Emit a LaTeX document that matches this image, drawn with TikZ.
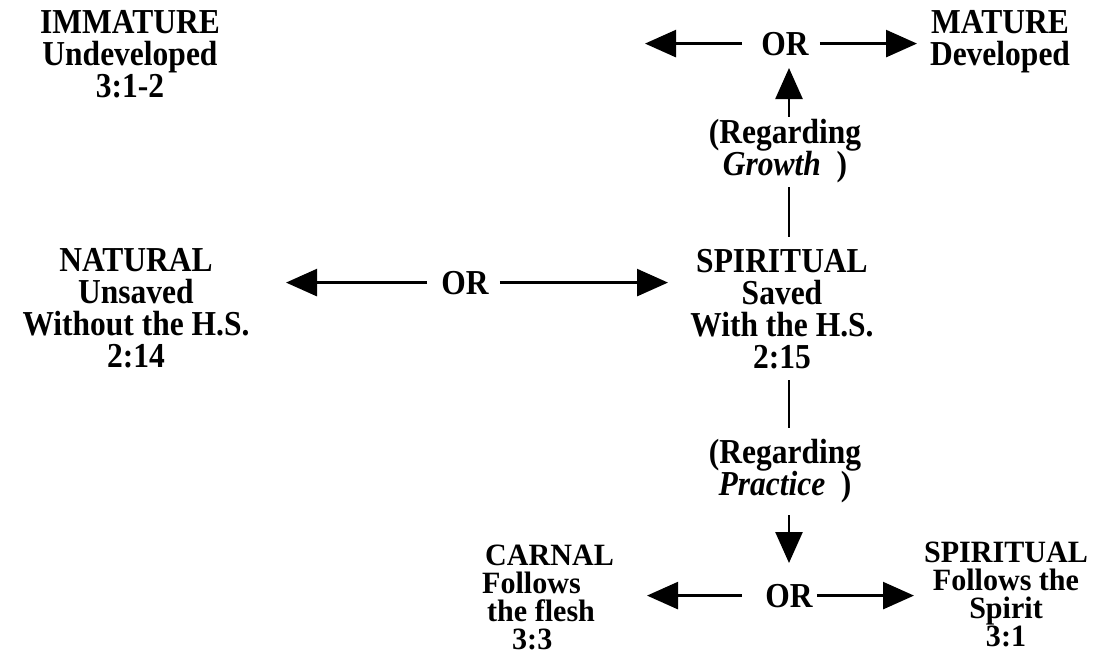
\documentclass[tikz,border=0pt]{standalone}
\usepackage{fontspec}
\setmainfont{Liberation Serif}[FakeStretch=0.9]
\newfontfamily\botfam{Liberation Serif}[FakeStretch=0.97]
\usetikzlibrary{arrows.meta}
\newcommand\mytab[2]{\begin{tabular}[t]{@{}#1@{}}#2\end{tabular}}
\begin{document}
\begin{tikzpicture}[x=1pt,y=-1pt,
  lbl/.style={inner sep=0pt, anchor=base, font=\bfseries\fontsize{35}{32}\selectfont},
  lblb/.style={lbl, font=\botfam\bfseries\fontsize{31}{28}\selectfont},
  ln/.style={line width=2.6pt},
  arr/.style={ln, -{Triangle[length=31pt,width=27pt]}}]
\useasboundingbox[fill=white] (0,0) rectangle (1103,657);
% labels
\node[lbl] (immat) at (130,33) {\mytab{c}{\smash{IMMATURE}\\\smash{Undeveloped}\\\smash{3:1-2}}};
\node[lbl] (mat) at (1000,33) {\mytab{c}{\smash{MATURE}\\\smash{Developed}}};
\node[lbl] (orT) at (785,55) {OR};
\node[lbl] (regG) at (785,143) {\mytab{c}{\smash{(Regarding}\\\smash{\textit{Growth}\ \ )}}};
\node[lbl] (nat) at (136,271) {\mytab{c}{\smash{NATURAL}\\\smash{Unsaved}\\\smash{Without the H.S.}\\\smash{2:14}}};
\node[lbl] (orM) at (465,294) {OR};
\node[lbl] (spir) at (782,272) {\mytab{c}{\smash{SPIRITUAL}\\\smash{Saved}\\\smash{With the H.S.}\\\smash{2:15}}};
\node[lbl] (regP) at (785,463) {\mytab{c}{\smash{(Regarding}\\\smash{\textit{Practice}\ \ )}}};
\node[lbl] (orB) at (789,607) {OR};
\node[lblb,anchor=base west] (carn) at (485,565) {\mytab{l}{\smash{CARNAL}\\\smash{\hspace*{-3pt}Follows}\\\smash{\hspace*{2pt}the flesh}\\\smash{\hspace*{27pt}3:3}}};
\node[lblb] (spirB) at (1006,562) {\mytab{c}{\smash{SPIRITUAL}\\\smash{Follows the}\\\smash{Spirit}\\\smash{3:1}}};
% tips and axis
\coordinate (ax) at (789,0);
\coordinate (tTL) at (645,44);
\coordinate (tTR) at (917,44);
\coordinate (tUp) at (789,68);
\coordinate (tML) at (286,283);
\coordinate (tMR) at (668,283);
\coordinate (tDn) at (789,563);
\coordinate (tBL) at (647,597);
\coordinate (tBR) at (914,597);
% top row
\draw[arr] ([xshift=-19pt]orT.west) -- (orT.west -| tTL);
\draw[arr] ([xshift=11pt]orT.east) -- (orT.east -| tTR);
% vertical up
\draw[ln, shorten <=12.6pt, shorten >=2.4pt] (spir.north -| ax) -- (regG.south -| ax);
\draw[arr, shorten <=3.6pt] (regG.north -| ax) -- (tUp);
% middle row
\draw[arr] ([xshift=-14pt]orM.west) -- (orM.west -| tML);
\draw[arr] ([xshift=11pt]orM.east) -- (orM.east -| tMR);
% vertical down
\draw[ln, shorten <=2.4pt, shorten >=12.6pt] (spir.south -| ax) -- (regP.north -| ax);
\draw[arr, shorten <=10.4pt] (regP.south -| ax) -- (tDn);
% bottom row
\draw[arr] ([xshift=-23pt]orB.west) -- (orB.west -| tBL);
\draw[arr] ([xshift=4pt]orB.east) -- (orB.east -| tBR);
\end{tikzpicture}
\end{document}
